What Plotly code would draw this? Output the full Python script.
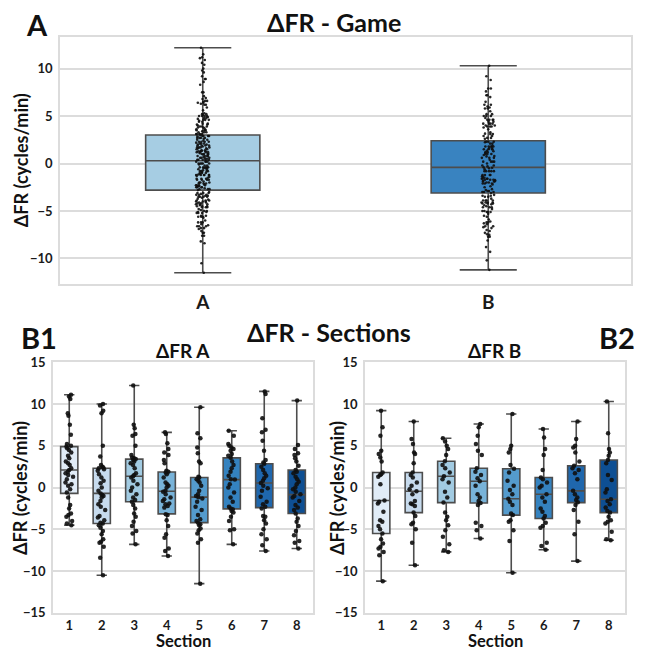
import numpy as np
import plotly.graph_objects as go

W, H = 647, 657
FONT = "Lato"

# ---------------- data ----------------
sections = ["1", "2", "3", "4", "5", "6", "7", "8"]
games = ["A", "B"]

# per-section samples, game A
a_s1 = [11.1, 10.9, 10.6, 8.9, 8.6, 7.5, 6.3, 5.2, 5.0, 4.9, 4.7, 4.5, 4.2, 3.8, 3.5, 3.1, 2.9, 2.7, 2.3, 2.1,
        1.9, 1.7, 1.5, 1.3, 1.0, 0.6, 0.4, 0.2, -0.2, -0.6, -1.2, -2.1, -2.5, -3.1, -3.3, -3.5, -4.0, -4.3, -4.5]
a_s2 = [10.0, 9.8, 9.2, 8.9, 5.0, 3.7, 2.7, 2.5, 2.4, 2.3, 2.2, 2.0, 1.6, 1.2, 0.8, 0.5, 0.0, -0.4, -0.7, -0.9,
        -1.0, -1.2, -1.6, -2.0, -2.3, -2.7, -3.4, -3.6, -3.9, -4.2, -4.3, -4.5, -4.8, -5.2, -5.6, -6.2, -6.5,
        -6.6, -7.1, -8.4, -10.5]
a_s3 = [12.2, 7.5, 7.1, 6.4, 6.2, 5.0, 3.9, 3.6, 3.5, 3.4, 3.3, 3.1, 2.9, 2.7, 2.3, 1.7, 1.5, 1.35, 1.2, 0.8,
        0.4, 0.0, -0.4, -0.8, -1.2, -1.5, -1.7, -2.1, -2.5, -3.1, -3.5, -4.1, -4.6, -5.2, -5.5, -6.8]
a_s4 = [6.6, 6.4, 5.3, 4.6, 4.2, 3.9, 3.3, 2.9, 2.0, 1.9, 1.8, 1.6, 1.2, 0.6, 0.4, 0.2, 0.0, -0.4, -0.5, -0.8,
        -1.2, -1.4, -1.6, -1.9, -2.0, -2.2, -2.4, -3.2, -3.3, -3.9, -4.6, -5.6, -6.0, -7.3, -7.6, -8.2]
a_s5 = [9.6, 6.5, 5.9, 4.8, 4.1, 3.1, 2.9, 1.3, 1.2, 1.0, 0.8, 0.6, 0.2, -0.4, -0.8, -1.0, -1.15, -1.3, -1.7,
        -2.3, -2.7, -3.3, -3.8, -4.0, -4.2, -4.4, -4.5, -4.9, -5.1, -5.5, -6.2, -6.6, -11.5]
a_s6 = [6.8, 6.2, 5.2, 5.0, 4.8, 4.6, 4.4, 4.0, 3.8, 3.55, 3.1, 2.7, 2.3, 1.9, 1.4, 1.0, 0.95, 0.4, 0.0, -0.6,
        -1.2, -1.7, -2.3, -2.5, -2.6, -2.8, -3.0, -3.5, -4.0, -5.0, -5.1, -6.8]
a_s7 = [11.5, 11.2, 8.3, 6.9, 6.6, 5.6, 4.4, 3.3, 3.0, 2.85, 2.5, 2.1, 1.7, 1.4, 1.1, 0.8, 0.55, 0.2, -0.1,
        -0.4, -1.1, -1.7, -2.0, -2.3, -2.5, -3.4, -3.5, -3.9, -4.3, -5.0, -5.6, -6.2, -6.9, -7.6]
a_s8 = [10.4, 5.1, 4.6, 4.1, 3.9, 3.5, 3.1, 2.6, 2.1, 1.9, 1.7, 1.3, 1.0, 0.7, 0.4, 0.0, -0.2, -0.5, -0.8,
        -1.0, -1.2, -1.6, -2.1, -2.4, -2.7, -3.1, -3.7, -4.1, -4.6, -5.2, -5.7, -6.4, -6.6, -7.3]

# per-section samples, game B
b_s1 = [9.2, 7.2, 6.2, 4.4, 4.0, 3.6, 3.1, 1.8, 1.6, 1.5, 1.3, 0.4, -1.55, -1.7, -1.9, -2.9, -3.9, -4.1, -4.6,
        -5.0, -5.5, -6.2, -6.7, -7.1, -7.3, -7.7, -8.1, -11.2]
b_s2 = [7.9, 5.8, 5.2, 4.2, 4.0, 2.9, 1.8, 1.5, 1.2, 0.6, 0.2, -0.2, -0.45, -0.8, -1.6, -1.9, -2.0, -2.2, -3.0,
        -3.4, -4.2, -4.4, -5.0, -6.6, -9.3]
b_s3 = [5.9, 5.5, 5.0, 4.6, 3.9, 3.15, 2.7, 2.3, 1.8, 1.35, 1.0, 0.6, -0.5, -1.2, -1.8, -3.0, -3.5, -3.9, -4.5,
        -5.1, -5.9, -6.8, -7.5, -7.7]
b_s4 = [7.6, 7.2, 6.2, 5.2, 4.4, 3.9, 2.3, 1.9, 1.5, 1.1, 0.75, 0.2, -0.8, -1.2, -1.6, -1.85, -2.1, -4.2, -4.6,
        -5.1, -6.1]
b_s5 = [8.8, 5.0, 4.6, 4.2, 2.7, 2.25, 1.8, 0.8, 0.2, -0.3, -0.8, -1.35, -1.7, -2.1, -3.1, -3.3, -3.9, -4.1,
        -5.1, -6.4, -10.2]
b_s6 = [7.0, 6.0, 4.6, 3.9, 2.1, 1.2, 1.0, 0.6, 0.2, 0.0, -0.8, -1.2, -1.7, -2.5, -2.9, -3.4, -3.7, -4.2, -4.6,
        -4.8, -6.6, -7.0, -7.45]
b_s7 = [7.9, 5.8, 5.0, 4.8, 4.2, 3.1, 2.6, 2.3, 2.1, 1.7, 1.0, -0.4, -0.8, -1.2, -1.5, -1.75, -2.1, -2.7, -4.1,
        -5.6, -8.8]
b_s8 = [10.3, 6.5, 4.6, 4.2, 3.8, 3.3, 2.9, 1.5, 0.9, -0.2, -0.6, -1.4, -1.6, -2.0, -2.4, -2.8, -3.0, -3.5,
        -3.9, -4.1, -4.3, -5.3, -6.2, -6.3]

a_sections = [a_s1, a_s2, a_s3, a_s4, a_s5, a_s6, a_s7, a_s8]
b_sections = [b_s1, b_s2, b_s3, b_s4, b_s5, b_s6, b_s7, b_s8]

# box statistics
a_q1 = [-0.7, -4.3, -1.7, -3.15, -4.2, -2.55, -2.4, -3.1]
a_med = [2.1, -0.7, 1.35, -0.45, -1.15, 0.95, 0.55, -0.85]
a_q3 = [4.9, 2.3, 3.4, 1.85, 1.2, 3.55, 2.85, 2.1]
b_q1 = [-5.5, -3.0, -1.8, -1.85, -3.3, -3.7, -1.8, -3.0]
b_med = [-1.55, -0.45, 1.35, 0.75, -1.35, -0.8, -0.4, -1.4]
b_q3 = [1.8, 1.8, 3.15, 2.3, 2.25, 1.2, 2.6, 3.3]
game_q1 = [-2.8, -3.1]
game_med = [0.3, -0.4]
game_q3 = [3.0, 2.4]

section_colors = ["#e1ecf7", "#c7dbee", "#a2cbe2", "#78b3d9", "#549bcd", "#3482bf", "#1f67ad", "#0e4f93"]
game_colors = ["#a6cde3", "#3983c0"]

# ---------------- layout helpers ----------------
def fx(px):
    return px / W

def fy(py):
    return 1 - py / H

EDGE = "#4d4d4d"
GRID = "#dcdcdc"
DOT = "rgba(15,15,15,0.9)"

fig = go.Figure()

def add_box(xa, ya, cat, q1, med, q3, pts, color, width, wwidth):
    fig.add_trace(go.Box(
        x=[cat], q1=[q1], median=[med], q3=[q3],
        lowerfence=[float(np.min(pts))], upperfence=[float(np.max(pts))],
        xaxis=xa, yaxis=ya, fillcolor=color, width=width, whiskerwidth=wwidth,
        line=dict(color=EDGE, width=1.6), boxpoints=False, showlegend=False, hoverinfo="skip"))

def add_pts(xa, ya, cat, pts, width, jitter, size):
    fig.add_trace(go.Box(
        x=[cat] * len(pts), y=pts, xaxis=xa, yaxis=ya, width=width,
        boxpoints="all", jitter=jitter, pointpos=0,
        fillcolor="rgba(0,0,0,0)", line=dict(color="rgba(0,0,0,0)", width=0),
        marker=dict(color=DOT, size=size, line=dict(width=0)),
        showlegend=False, hoverinfo="skip"))

# top panel: whole game
game_pts = [sum(a_sections, []), sum(b_sections, [])]
for i, g in enumerate(games):
    add_box("x", "y", g, game_q1[i], game_med[i], game_q3[i], game_pts[i], game_colors[i], 0.4, 0.5)
for i, g in enumerate(games):
    add_pts("x", "y", g, game_pts[i], 0.4, 0.12, 2.6)

# bottom panels: sections
for i, s in enumerate(sections):
    add_box("x2", "y2", s, a_q1[i], a_med[i], a_q3[i], a_sections[i], section_colors[i], 0.53, 0.6)
    add_box("x3", "y3", s, b_q1[i], b_med[i], b_q3[i], b_sections[i], section_colors[i], 0.53, 0.6)
for i, s in enumerate(sections):
    add_pts("x2", "y2", s, a_sections[i], 0.53, 0.5, 4.5)
    add_pts("x3", "y3", s, b_sections[i], 0.53, 0.5, 4.5)

tickfont_small = dict(family=FONT, size=13, color="#1a1a1a", weight="bold")

def xax(domain, anchor, size, rng, cats):
    return dict(domain=domain, anchor=anchor, type="category", categoryorder="array", categoryarray=cats,
                range=rng, showgrid=False, zeroline=False, showline=True, mirror=True,
                linecolor=GRID, linewidth=1.5, ticks="", ticklabelstandoff=0,
                tickfont=dict(family=FONT, size=size, color="#1a1a1a", weight="bold"))

def yax(domain, anchor, rng, tv):
    return dict(domain=domain, anchor=anchor, range=rng, tickvals=tv, showgrid=True, gridcolor=GRID,
                gridwidth=1.5, zeroline=False, showline=True, mirror=True, linecolor=GRID, linewidth=1.5,
                ticks="", ticklabelstandoff=3, tickfont=tickfont_small)

fig.update_layout(
    width=W, height=H, margin=dict(l=0, r=0, t=0, b=0),
    paper_bgcolor="white", plot_bgcolor="white", boxmode="overlay",
    xaxis=xax([fx(60), fx(631)], "y", 19, [-0.5, 1.5], games),
    yaxis=yax([fy(283), fy(30)], "x", [-12.7, 13.3], [-10, -5, 0, 5, 10]),
    xaxis2=xax([fx(53), fx(313)], "y2", 13, [-0.5, 7.5], sections),
    yaxis2=yax([fy(620), fy(363)], "x2", [-15, 15], [-15, -10, -5, 0, 5, 10, 15]),
    xaxis3=xax([fx(365), fx(625)], "y3", 13, [-0.5, 7.5], sections),
    yaxis3=yax([fy(620), fy(363)], "x3", [-15, 15], [-15, -10, -5, 0, 5, 10, 15]),
)

def txt(text, px, py, size, angle=0):
    fig.add_annotation(text=text, x=fx(px), y=fy(py), xref="paper", yref="paper", showarrow=False,
                       textangle=angle, xanchor="center", yanchor="middle",
                       font=dict(family=FONT, size=size, color="#111111", weight="bold"))

txt("ΔFR - Game", 334, 14, 25)
txt("A", 37, 17, 29)
txt("ΔFR (cycles/min)", 21, 156, 18, -90)
txt("ΔFR - Sections", 329, 332, 25)
txt("B1", 39, 338, 29)
txt("B2", 617, 338, 29)
txt("ΔFR A", 183, 351, 19)
txt("ΔFR B", 494, 351, 19)
txt("ΔFR (cycles/min)", 20, 492, 18, -90)
txt("ΔFR (cycles/min)", 337, 492, 18, -90)
txt("Section", 183, 648.5, 16.5)
txt("Section", 495, 648.5, 16.5)

fig.write_html("out.html", config={"displayModeBar": False},
               post_script="document.body.style.margin='0px';")
